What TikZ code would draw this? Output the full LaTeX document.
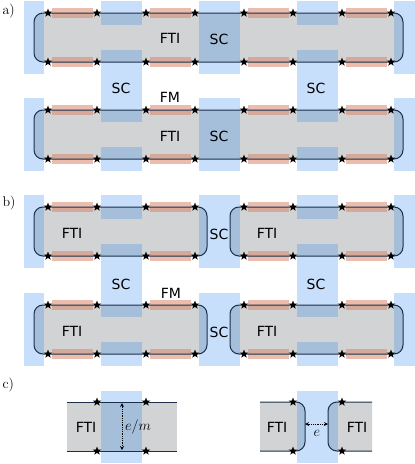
\documentclass[tikz,border=0pt]{standalone}
\usepackage{amsmath}
\usepackage{fontspec}
\usepackage{tikz}
\usetikzlibrary{arrows,shapes.geometric}
\newfontfamily\dejavu{DejaVu Sans}
\definecolor{ftigray}{HTML}{D1D3D4}
\definecolor{scblue}{RGB}{42,131,238}
\definecolor{fmred}{HTML}{D9876B}
\definecolor{rimblue}{HTML}{1C2E4A}

\begin{document}
\begin{tikzpicture}[x=1pt, y=-1pt, >=stealth]
	\tikzstyle{ministar} = [star, star points=5, star point ratio=2.4, fill=black, inner sep=0pt, minimum size=9pt]
	\tikzstyle{fti} = [fill=ftigray]
	\tikzstyle{sc} = [fill=scblue, fill opacity=0.26]
	\tikzstyle{fm} = [fill=fmred, fill opacity=0.55]
	\tikzstyle{rim} = [draw=rimblue, line width=1pt]
	\tikzstyle{lbl} = [font=\dejavu\fontsize{14}{16}\selectfont]
	\tikzstyle{panel} = [anchor=base west, font=\fontsize{14}{16}\selectfont]
	\useasboundingbox (0,0) rectangle (415,464);

	% FTI
	\foreach \t in {13,110}
		\fill[fti, rounded corners=9pt] (34,\t) rectangle (403,\t+49);
	\foreach \t in {207,305} {
		\fill[fti, rounded corners=9pt] (34,\t) rectangle (207,\t+49);
		\fill[fti, rounded corners=9pt] (230,\t) rectangle (403,\t+49);
	}
	\fill[fti] (67,402) rectangle (177,451);
	\fill[fti, rounded corners=9pt] (260,402) -- (305,402) -- (305,451) -- (260,451);
	\fill[fti, rounded corners=9pt] (372,402) -- (328,402) -- (328,451) -- (372,451);

	% SC
	\foreach \t in {13,110,207,305}
		\foreach \xa/\xb in {24/44, 199/240, 394/415}
			\fill[sc] (\xa,\t-12) rectangle (\xb,\t+61);
	\foreach \ta/\tb in {13/110, 207/305}
		\foreach \xa/\xb in {101/142, 297/338} {
			\fill[sc] (\xa,\ta-12) rectangle (\xb,\ta+12);
			\fill[sc] (\xa,\ta+37) rectangle (\xb,\tb+12);
			\fill[sc] (\xa,\tb+37) rectangle (\xb,\tb+61);
		}
	\fill[sc] (101,391) rectangle (142,463);
	\fill[sc] (297,391) rectangle (338,463);

	% FM
	\foreach \t in {13,62,110,159,207,256,305,354}
		\foreach \x in {48,146,244,342}
			\fill[fm] (\x+4,\t-5) rectangle (\x+45,\t+4.5);

	% edges
	\foreach \t in {13,110}
		\draw[rim, rounded corners=9pt] (34,\t) rectangle (403,\t+49);
	\foreach \t in {207,305} {
		\draw[rim, rounded corners=9pt] (34,\t) rectangle (207,\t+49);
		\draw[rim, rounded corners=9pt] (230,\t) rectangle (403,\t+49);
	}
	\draw[rim] (67,402) -- (177,402);
	\draw[rim] (67,451) -- (177,451);
	\draw[rim, rounded corners=9pt] (260,402) -- (305,402) -- (305,451) -- (260,451);
	\draw[rim, rounded corners=9pt] (372,402) -- (328,402) -- (328,451) -- (372,451);

	% stars
	\foreach \t/\r in {13/a1, 110/a2, 207/b1, 305/b2}
		\foreach \i in {0,...,7} {
			\node[ministar] (\r t\i) at (48+49*\i,\t) {};
			\node[ministar] (\r b\i) at (48+49*\i,\t+49) {};
		}
	\foreach \x/\n in {97/1, 146/2, 293/3, 342/4} {
		\node[ministar] (ct\n) at (\x,402) {};
		\node[ministar] (cb\n) at (\x,451) {};
	}

	% arrows
	\coordinate (emtop) at (122,403);
	\coordinate (embot) at (122,450);
	\coordinate (eleft) at (305,424);
	\coordinate (eright) at (328,424);
	\draw[<->, densely dotted, thick] (emtop) -- (embot);
	\draw[<->, densely dotted, thick] (eleft) -- (eright);

	% labels
	\node[panel] (pa) at (-1,14.5) {a)};
	\node[panel] (pb) at (-1,206) {b)};
	\node[panel] (pc) at (-1,388) {c)};

	\node[lbl] (ftia1) at (170,38) {FTI};
	\node[lbl] (ftia2) at (170,136) {FTI};
	\node[lbl] (sca1) at (219,39) {SC};
	\node[lbl] (sca2) at (219,136) {SC};
	\node[lbl] (sca3) at (121,88) {SC};
	\node[lbl] (sca4) at (316,88) {SC};
	\node[lbl] (fma) at (170,97) {FM};

	\node[lbl] (ftib1) at (72,233) {FTI};
	\node[lbl] (ftib2) at (267,233) {FTI};
	\node[lbl] (ftib3) at (72,331) {FTI};
	\node[lbl] (ftib4) at (267,331) {FTI};
	\node[lbl] (scb1) at (219,234) {SC};
	\node[lbl] (scb2) at (219,332) {SC};
	\node[lbl] (scb3) at (121,284) {SC};
	\node[lbl] (scb4) at (316,284) {SC};
	\node[lbl] (fmb) at (171,293) {FM};

	\node[lbl] (ftic1) at (86,427) {FTI};
	\node[lbl] (ftic2) at (277,427) {FTI};
	\node[lbl] (ftic3) at (357,427) {FTI};
	\node[font=\fontsize{14}{16}\selectfont] (em) at (138,427) {$e/m$};
	\node[font=\fontsize{14}{16}\selectfont] (e) at (317,433) {$e$};
\end{tikzpicture}
\end{document}
